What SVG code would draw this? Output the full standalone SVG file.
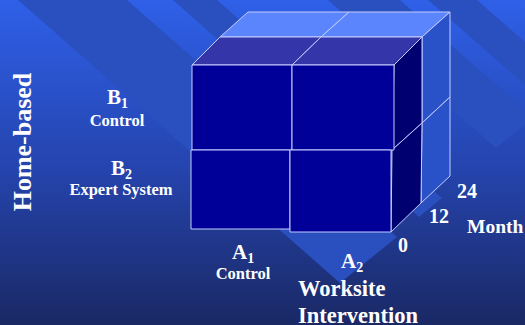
<svg xmlns="http://www.w3.org/2000/svg" width="525" height="325" viewBox="0 0 525 325">
  <defs>
    <linearGradient id="bg" x1="0" y1="0" x2="0" y2="1">
      <stop offset="0" stop-color="#2f60e8"/>
      <stop offset="0.5" stop-color="#2545b0"/>
      <stop offset="1" stop-color="#1a2864"/>
    </linearGradient>
  </defs>
  <style>
    .band { fill: #2a50c0; }
    .edge { stroke: #c4ccff; stroke-width: 1; stroke-linejoin: round; }
    .front { fill: #000099; }
    .top-front { fill: #3535aa; }
    .top-back { fill: #5b85fc; }
    .side-front { fill: #000070; }
    .side-back { fill: #2a52c8; }
    text { font-family: "Liberation Serif", "Times New Roman", serif; font-weight: bold; fill: #ffffff; }
    .lbl { font-size: 16.5px; }
    .big { font-size: 21px; }
    .sub { font-size: 14px; }
    .axis { font-size: 22.5px; }
    .num { font-size: 20px; }
  </style>

  <!-- slide background with diagonal bands -->
  <rect x="0" y="0" width="525" height="325" fill="url(#bg)"/>
  <g id="bands">
    <polygon class="band" points="18,0 127,0 397,237 340,283"/>
    <polygon class="band" points="173,0 217,0 442,198 419,217"/>
    <polygon class="band" points="328,0 400,0 525,110 525,124.5 496,148"/>
    <polygon class="band" points="428,0 477,0 525,42 525,85"/>
  </g>

  <!-- 24-month layer (back) -->
  <g id="layer-back">
    <polygon class="top-back edge" points="220,37 321,37 349,12 248,12"/>
    <polygon class="top-back edge" points="321,37 422,37 450,12 349,12"/>
    <polygon class="side-back edge" points="422,37 450,12 450,97 422,123"/>
    <polygon class="side-back edge" points="422,123 450,97 450,176 421,203"/>
  </g>

  <!-- 12-month layer tops and sides -->
  <g id="layer-front">
    <polygon class="top-front edge" points="192,65 292,65 321,37 220,37"/>
    <polygon class="top-front edge" points="292,65 394,65 422,37 321,37"/>
    <polygon class="side-front edge" points="394,65 422,37 422,123 392,150"/>
    <polygon class="side-front edge" points="392,150 422,123 421,203 391,232"/>
  </g>

  <!-- front cells (baseline) -->
  <g id="cell-a1b1"><rect class="front edge" x="192" y="65" width="100" height="85"/></g>
  <g id="cell-a2b1"><rect class="front edge" x="292" y="65" width="102" height="85"/></g>
  <g id="cell-a1b2"><rect class="front edge" x="191" y="150" width="99" height="79"/></g>
  <g id="cell-a2b2"><rect class="front edge" x="290" y="150" width="101" height="82"/></g>

  <g id="connectors"/>

  <!-- factor labels -->
  <g id="label-home">
    <text class="axis" font-size="26" style="font-size:26px" text-anchor="middle" transform="translate(31,142) rotate(-90)">Home-based</text>
  </g>
  <g id="label-b1">
    <text class="big" x="107" y="104">B<tspan class="sub" dy="4">1</tspan></text>
    <text class="lbl" x="117" y="125.5" text-anchor="middle">Control</text>
  </g>
  <g id="label-b2">
    <text class="big" x="111" y="175">B<tspan class="sub" dy="4">2</tspan></text>
    <text class="lbl" x="121" y="195" text-anchor="middle">Expert System</text>
  </g>
  <g id="label-a1">
    <text class="big" x="232" y="259">A<tspan class="sub" dy="4">1</tspan></text>
    <text class="lbl" x="243" y="279" text-anchor="middle">Control</text>
  </g>
  <g id="label-a2">
    <text class="big" x="341" y="268">A<tspan class="sub" dy="4">2</tspan></text>
  </g>
  <g id="label-worksite">
    <text class="axis" x="298" y="295.5">Worksite</text>
    <text class="axis" x="298" y="323">Intervention</text>
  </g>
  <g id="label-months">
    <text class="num" x="398" y="251.5">0</text>
    <text class="num" x="429" y="222.5">12</text>
    <text class="num" x="457" y="198">24</text>
    <text class="num" style="font-size:19.5px" x="467" y="232.5">Month</text>
  </g>
</svg>
